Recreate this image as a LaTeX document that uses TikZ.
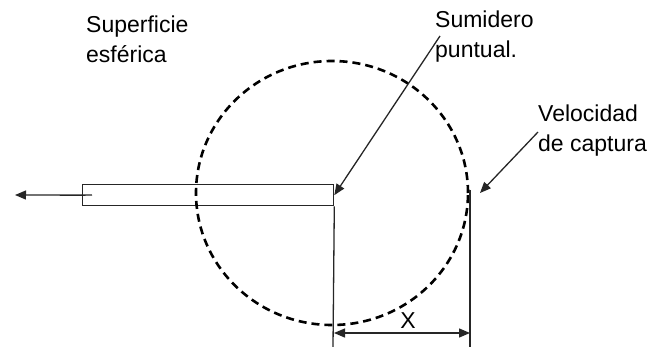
\documentclass[tikz,border=0pt]{standalone}
\usepackage{fontspec}
\setmainfont{Liberation Sans}
\usetikzlibrary{arrows.meta}
\begin{document}
\begin{tikzpicture}[x=1pt,y=-1pt,
  thin line/.style={line width=1.3pt, draw=black!85},
  tipend/.style={-{Triangle[length=11pt,width=9pt]}},
  txt/.style={inner sep=0pt, anchor=north west, align=left, font=\fontsize{23}{30}\selectfont}]
\useasboundingbox (0,0) rectangle (652,347);
% pipe
\node[thin line, draw, minimum width=251pt, minimum height=21pt, inner sep=0pt, anchor=north west] (pipe) at (82,184) {};
\coordinate (exit) at (15,195);
\coordinate (inner) at (92,195);
\draw[thin line] (pipe.west) -- (inner);
\draw[thin line, tipend] (pipe.west) -- (exit);
% spherical surface
\draw[line width=2.6pt, dash pattern=on 8pt off 5pt] (332,193) ellipse [x radius=136pt, y radius=132pt];
% dimension lines
\coordinate (lb) at (333,347);
\coordinate (rt) at (470,190);
\coordinate (rb) at (470,347);
\coordinate (dl) at (334,333);
\coordinate (dr) at (470,333);
\draw[thin line] (pipe.south east) -- (lb);
\draw[thin line] (rt) -- (rb);
\draw[thin line, {Triangle[length=11pt,width=9pt]}-{Triangle[length=11pt,width=9pt]}] (dl) -- (dr);
\node[inner sep=0pt, anchor=base, font=\fontsize{23}{28}\selectfont] (xlab) at (408,328) {X};
% labels
\node[txt] (sup) at (86,16) {Superficie\\esférica};
\node[txt] (sum) at (435,11) {Sumidero\\puntual.};
\node[txt] (vel) at (538,105) {Velocidad\\de captura};
% pointer arrows
\coordinate (sumtail) at (440,36);
\coordinate (veltail) at (538,132);
\coordinate (velhead) at (480,193);
\draw[thin line, tipend] (sumtail) -- (pipe.east);
\draw[thin line, tipend] (veltail) -- (velhead);
\end{tikzpicture}
\end{document}
